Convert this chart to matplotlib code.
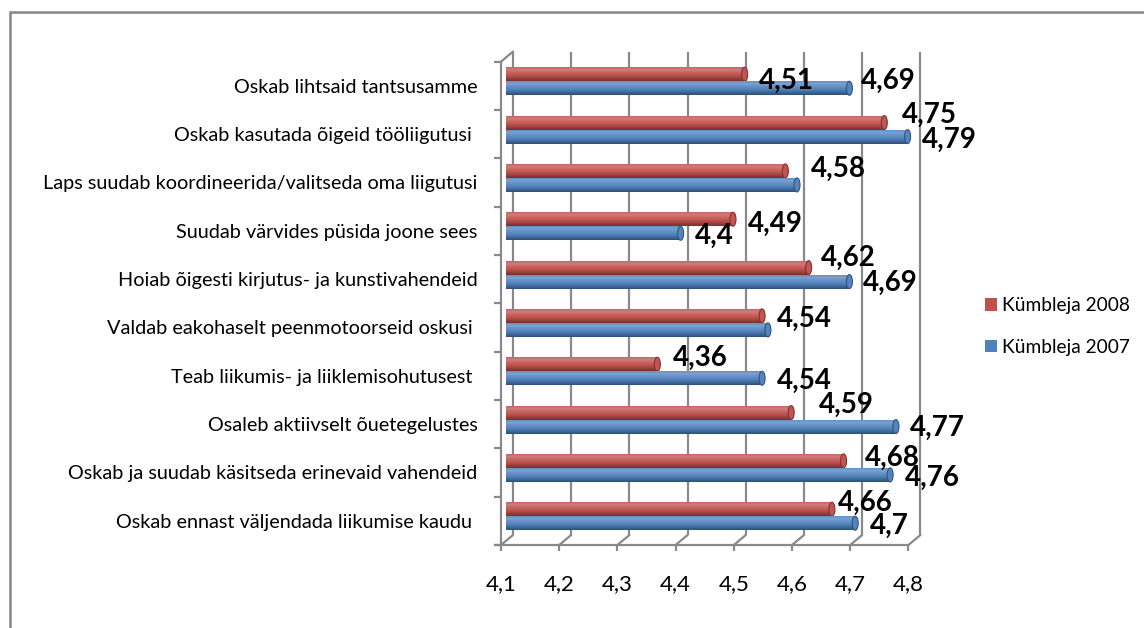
import matplotlib
matplotlib.use('Agg')
import matplotlib.pyplot as plt
import numpy as np
import matplotlib.colors as mcolors
from matplotlib.patches import Ellipse, Rectangle, Patch, ConnectionPatch

# ---------------- data ----------------
categories = [
    'Oskab lihtsaid tantsusamme',
    'Oskab kasutada õigeid tööliigutusi ',
    'Laps suudab koordineerida/valitseda oma liigutusi',
    'Suudab värvides püsida joone sees',
    'Hoiab õigesti kirjutus- ja kunstivahendeid',
    'Valdab eakohaselt peenmotoorseid oskusi ',
    'Teab liikumis- ja liiklemisohutusest ',
    'Osaleb aktiivselt õuetegelustes',
    'Oskab ja suudab käsitseda erinevaid vahendeid',
    'Oskab ennast väljendada liikumise kaudu ',
]
values_2008 = [4.51, 4.75, 4.58, 4.49, 4.62, 4.54, 4.36, 4.59, 4.68, 4.66]
values_2007 = [4.69, 4.79, 4.60, 4.40, 4.69, 4.55, 4.54, 4.77, 4.76, 4.70]
labels_2008 = ['4,51', '4,75', '4,58', '4,49', '4,62', '4,54', '4,36', '4,59', '4,68', '4,66']
labels_2007 = ['4,69', '4,79', '', '4,4', '4,69', '', '4,54', '4,77', '4,76', '4,7']
series_names = ['Kümbleja 2008', 'Kümbleja 2007']
x_ticks = [4.1, 4.2, 4.3, 4.4, 4.5, 4.6, 4.7, 4.8]
x_tick_labels = ['4,1', '4,2', '4,3', '4,4', '4,5', '4,6', '4,7', '4,8']

# ---------------- style / layout ----------------
W, H, DPI = 1144, 628, 100
RED = '#C0504D'
BLUE = '#4F81BD'
GRID = '#898989'
FONT = 'Lato'
# label nudges (pixels: right, down) measured from the bar end
red_dx = [14, 18, 26, 15, 12, 15, 16, 28, 21, 6]
red_dy = [6, -8, -3, 4, -10, 2, -7, -8, -4, -7]
blue_dx = [12, 14, 14, 14, 14, 15, 15, 14, 15, 15]
blue_dy = [-8, 3, 2, 2, 1, 2, 2, 1, 2, 2]

plt.rcParams['font.family'] = [FONT, 'DejaVu Sans']

fig = plt.figure(figsize=(W / DPI, H / DPI), dpi=DPI)
fig.patch.set_facecolor('white')


def px_axes(l, t, r, b):
    return fig.add_axes([l / W, 1 - b / H, (r - l) / W, (b - t) / H])


axb = px_axes(513, 51.6, 920.4, 535.0)   # back wall
ax = px_axes(506, 57.1, 913.4, 540.4)    # bar plane
axf = px_axes(501, 61.6, 908.4, 545.0)   # front axes
n = len(categories)
for a in (axb, ax, axf):
    a.set_xlim(x_ticks[0], x_ticks[-1])
    a.set_ylim(n - 0.5, -0.5)
axb.set_zorder(0)
ax.set_zorder(1)
axf.set_zorder(2)

# back wall gridlines
axb.set_axis_off()
axb.vlines(x_ticks, -0.5, n - 0.5, colors=GRID, lw=1.6, clip_on=False)

# floor diagonals and top-left diagonal
for xv in x_ticks:
    cp = ConnectionPatch(xyA=(xv, n - 0.5), coordsA=axb.transData,
                         xyB=(xv, n - 0.5), coordsB=axf.transData,
                         color=GRID, lw=1.6)
    fig.add_artist(cp)
cp = ConnectionPatch(xyA=(x_ticks[0], -0.5), coordsA=axb.transData,
                     xyB=(x_ticks[0], -0.5), coordsB=axf.transData,
                     color=GRID, lw=1.6)
fig.add_artist(cp)

# front axes
axf.patch.set_visible(False)
for s in ('top', 'right'):
    axf.spines[s].set_visible(False)
for s in ('left', 'bottom'):
    axf.spines[s].set_color(GRID)
    axf.spines[s].set_linewidth(1.6)
axf.spines['bottom'].set_bounds(x_ticks[0] - 0.01, x_ticks[-1])
axf.set_yticks(range(n))
axf.set_yticklabels(categories, fontsize=14.3, color='black')
axf.set_yticks(np.arange(-0.5, n, 1.0), minor=True)
axf.tick_params(axis='y', which='major', length=0, pad=17)
axf.tick_params(axis='y', which='minor', length=5, width=1.6, color=GRID, direction='out')
axf.set_xticks(x_ticks)
axf.set_xticklabels(x_tick_labels, fontsize=16, color='black')
axf.tick_params(axis='x', which='major', length=4, width=1.6, color=GRID, direction='out', pad=17)

# bars with cylinder shading
ax.set_axis_off()
bar_h = 0.29
n_slices = 14
profile_t = [0.0, 0.2, 0.35, 0.6, 0.85, 1.0]
profile_f = [0.12, 0.25, 0.14, 0.0, -0.25, -0.40]


def shade(color, t):
    f = np.interp(t, profile_t, profile_f)
    rgb = np.array(mcolors.to_rgb(color))
    if f >= 0:
        rgb = rgb + (1 - rgb) * f
    else:
        rgb = rgb * (1 + f)
    return tuple(np.clip(rgb, 0, 1))


ypos = np.arange(n)
series = [(values_2008, RED, -bar_h / 2, labels_2008, red_dx, red_dy),
          (values_2007, BLUE, bar_h / 2, labels_2007, blue_dx, blue_dy)]
px_per_unit = (913.4 - 506) / (x_ticks[-1] - x_ticks[0])
cap_w = 6 / px_per_unit
for vals, col, off, labs, dxs, dys in series:
    vals = np.array(vals)
    yc = ypos + off
    for k in range(n_slices):
        t = (k + 0.5) / n_slices
        ax.barh(yc - bar_h / 2 + t * bar_h, vals - x_ticks[0], left=x_ticks[0],
                height=bar_h / n_slices * 1.05, color=shade(col, t), linewidth=0)
    for v, y in zip(vals, yc):
        ax.add_patch(Ellipse((v, y), cap_w, bar_h, facecolor=shade(col, 0.55),
                             edgecolor=shade(col, 0.95), lw=0.8))
    for v, y, lab, dx, dy in zip(vals, yc, labs, dxs, dys):
        if lab:
            ax.annotate(lab, xy=(v, y), xytext=(dx, -(dy + 8.5)),
                        textcoords='offset pixels', ha='left', va='baseline',
                        fontsize=20, fontweight='bold', color='black',
                        annotation_clip=False)

# legend
handles = [Patch(facecolor=RED, edgecolor='none'), Patch(facecolor=BLUE, edgecolor='none')]
fig.legend(handles, series_names, loc='upper left',
           bbox_to_anchor=(985 / W, 1 - 297 / H), frameon=False,
           fontsize=13.8, borderaxespad=0, borderpad=0,
           handlelength=0.63, handleheight=0.63, handletextpad=0.27,
           labelspacing=1.3)

# outer border
fig.add_artist(Rectangle((9.5 / W, -0.1), 1.2, 1.1 - 12.5 / H, transform=fig.transFigure,
                         fill=False, edgecolor='#8C8C8C', lw=1.9))

fig.savefig('out.png', dpi=DPI)
